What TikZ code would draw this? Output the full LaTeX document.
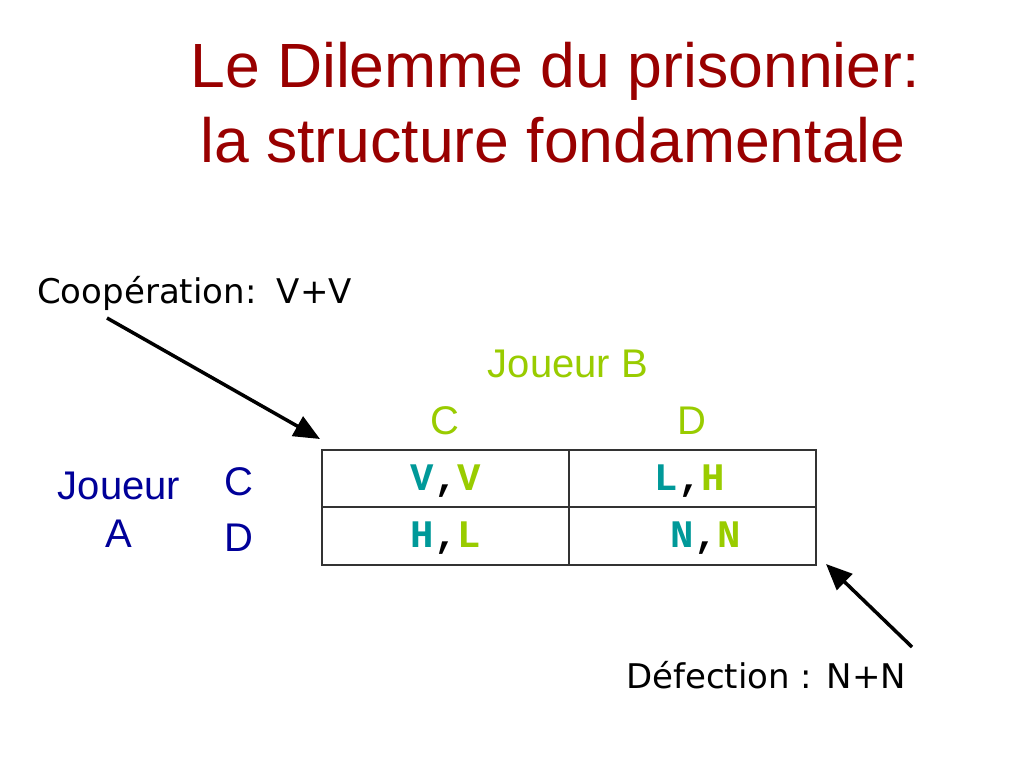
\documentclass[tikz,border=0pt]{standalone}
\usepackage{fontspec}
\setmainfont{Liberation Sans}
\newfontfamily\verd{DejaVu Sans}
\newfontfamily\cour{Liberation Mono}
\usetikzlibrary{arrows.meta}
\definecolor{titlered}{HTML}{990000}
\definecolor{pA}{HTML}{000099}
\definecolor{pB}{HTML}{99CC00}
\definecolor{teal2}{HTML}{009999}
\tikzset{
  lbl/.style={inner sep=0pt, anchor=base},
  ttl/.style={lbl, text=titlered, font=\fontsize{62.5}{64}\selectfont},
  note/.style={lbl, anchor=base west, font=\verd\fontsize{34}{36}\selectfont},
  plB/.style={lbl, text=pB, font=\fontsize{40}{42}\selectfont},
  plA/.style={lbl, text=pA, font=\fontsize{40}{42}\selectfont},
  ptr/.style={line width=3.5pt, -{Triangle[length=26pt,width=22pt]}},
  grid/.style={line width=1.3pt, draw=black!80},
  cell/.style={lbl, font=\cour\bfseries\fontsize{39}{40}\selectfont},
}
\newcommand{\pay}[2]{\textcolor{teal2}{#1},\textcolor{pB}{#2}}
\begin{document}
\begin{tikzpicture}[x=1pt,y=-1pt]
\useasboundingbox[fill=white] (0,0) rectangle (1024,768);
% title
\node[ttl] (t1) at (555,87) {Le Dilemme du prisonnier:};
\node[ttl] (t2) at (553,162) {la structure fondamentale};
% annotations
\node[note] (coop) at (37,303) {Coopération:\hspace{0.6em}V+V};
\node[note] (def) at (626,688) {Défection : N+N};
% players
\node[plB] (jb) at (568,377) {Joueur B};
\node[plB] (bc) at (445,434) {C};
\node[plB] (bd) at (692,434) {D};
\node[plA] (ja1) at (119,499) {Joueur};
\node[plA] (ja2) at (119,547) {A};
\node[plA] (ac) at (239,495) {C};
\node[plA] (ad) at (239,551) {D};
% table
\coordinate (tl) at (322,450);
\coordinate (br) at (816,565);
\draw[grid] (tl) rectangle (br);
\draw[grid] (322,507) -- (816,507);
\draw[grid] (569,450) -- (569,565);
\node[cell] (cc) at (446,490) {\pay{V}{V}};
\node[cell] (cd) at (690,490) {\pay{L}{H}};
\node[cell] (dc) at (446,547) {\pay{H}{L}};
\node[cell] (dd) at (706,547) {\pay{N}{N}};
% arrows
\coordinate (a1s) at (107,318);
\coordinate (a1e) at (320,439);
\coordinate (a2s) at (912,647);
\coordinate (a2e) at (826,564);
\draw[ptr] (a1s) -- (a1e);
\draw[ptr] (a2s) -- (a2e);
\end{tikzpicture}
\end{document}
